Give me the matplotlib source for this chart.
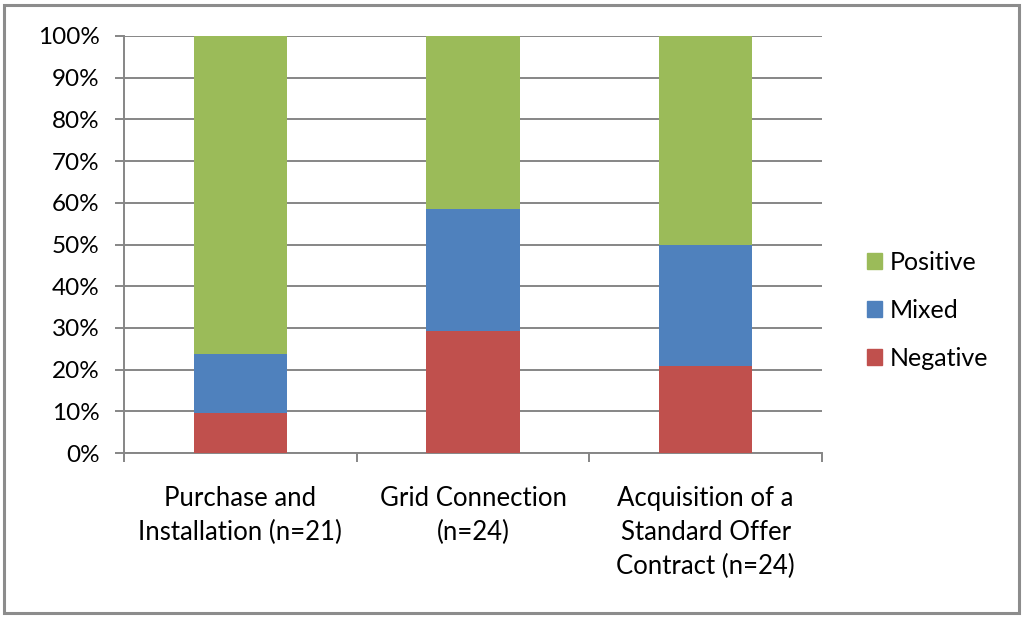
import matplotlib
matplotlib.use("Agg")
import matplotlib.pyplot as plt
from matplotlib.patches import Rectangle, Patch
import numpy as np

categories = ["Purchase and\nInstallation (n=21)", "Grid Connection\n(n=24)",
              "Acquisition of a\nStandard Offer\nContract (n=24)"]
series_names = ["Negative", "Mixed", "Positive"]
negative = [9.5, 29.2, 20.8]
mixed = [14.3, 29.2, 29.2]
positive = [76.2, 41.6, 50.0]
yticks = [0, 10, 20, 30, 40, 50, 60, 70, 80, 90, 100]
ytick_labels = [f"{v}%" for v in yticks]

colors = {"Negative": "#C0504D", "Mixed": "#4F81BD", "Positive": "#9BBB59"}
grid_color = "#868686"

plt.rcParams['font.family'] = ['Lato', 'DejaVu Sans']

fig = plt.figure(figsize=(10.24, 6.19), dpi=100)
fig.patches.append(Rectangle((4/1024, 6/619), 1015/1024, 608.5/619, transform=fig.transFigure,
                             fill=False, edgecolor="#8C8C8C", linewidth=2.2))

ax = fig.add_axes([124/1024, 1-453/619, 698/1024, 417/619])
x = np.arange(len(categories))
w = 0.4
bottom = np.zeros(len(categories))
for name, vals in zip(series_names, [negative, mixed, positive]):
    ax.bar(x, vals, w, bottom=bottom, color=colors[name], zorder=3)
    bottom += np.array(vals)

ax.set_xlim(-0.5, 2.5)
ax.set_ylim(0, 100)
ax.set_yticks(yticks)
ax.set_yticklabels(ytick_labels, fontsize=17.5)
ax.yaxis.grid(True, color=grid_color, linewidth=1.4, zorder=0)
ax.set_xticks([-0.5, 0.5, 1.5, 2.5])
ax.set_xticklabels([])
ax.set_xticks(x, minor=True)
ax.set_xticklabels(categories, minor=True, fontsize=18.5, linespacing=1.45)
ax.tick_params(axis='x', which='minor', length=0, pad=24)
ax.tick_params(axis='x', which='major', length=6.5, width=1.4, color=grid_color, direction='out')
ax.tick_params(axis='y', length=6.5, width=1.4, color=grid_color, pad=11)
for s in ["top", "right"]:
    ax.spines[s].set_visible(False)
for s in ["left", "bottom"]:
    ax.spines[s].set_color(grid_color)
    ax.spines[s].set_linewidth(1.4)
for lbl in ax.get_xticklabels(minor=True):
    lbl.set_verticalalignment('top')

handles = [Patch(color=colors[n]) for n in ["Positive", "Mixed", "Negative"]]
fig.legend(handles, ["Positive", "Mixed", "Negative"], loc="center left",
           bbox_to_anchor=(844/1024, 1-310/619), frameon=False, fontsize=18,
           handlelength=0.62, handleheight=0.62, handletextpad=0.32, labelspacing=1.0)

fig.savefig("out.png", dpi=100)
